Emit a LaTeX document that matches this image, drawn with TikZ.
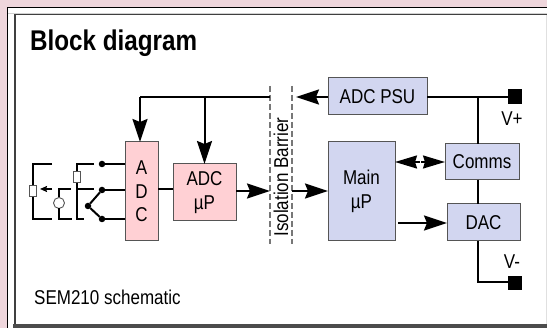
\documentclass[tikz,border=0pt]{standalone}
\usepackage{fontspec}
\setmainfont[FakeStretch=0.85]{Liberation Sans}
\usepackage{xcolor}
\usepackage{tikz}
\usetikzlibrary{arrows.meta,positioning,calc}
\definecolor{SheetPink}{HTML}{EFD6DC}
\definecolor{BoxPink}{HTML}{FFD0D4}
\definecolor{BoxBlue}{HTML}{D2D6F0}
\definecolor{BoxEdge}{HTML}{555555}
\definecolor{BarrierGrey}{HTML}{777777}
\tikzset{
  boxbase/.style={draw=BoxEdge,line width=1pt,outer sep=0pt,inner sep=0pt,align=center,
    font=\fontsize{20}{23.5}\selectfont},
  pinkbox/.style={boxbase,fill=BoxPink},
  bluebox/.style={boxbase,fill=BoxBlue},
  wire/.style={draw=black,line width=2pt},
  feed/.style={wire,-{Stealth[length=23pt,width=15pt,inset=3pt]}},
  feedboth/.style={wire,{Stealth[length=22pt,width=13pt,inset=2pt]}-{Stealth[length=22pt,width=13pt,inset=2pt]}},
  barrier/.style={draw=BarrierGrey,line width=1.2pt,dash pattern=on 6pt off 3pt},
  term/.style={fill=black,minimum size=14.5pt,inner sep=0pt,outer sep=0pt},
  pin/.style={circle,fill=black,minimum size=6.5pt,inner sep=0pt,outer sep=0pt},
  trim/.style={draw=BoxEdge,fill=white,line width=0.9pt,minimum width=7pt,minimum height=11pt,inner sep=0pt,outer sep=0pt},
  plain/.style={font=\fontsize{20}{20}\selectfont,inner sep=0pt}
}
\begin{document}
\begin{tikzpicture}[x=1pt,y=-1pt]
  \useasboundingbox (0,0) rectangle (547,328);
  % Sheet and frames.
  \fill[SheetPink] (0,0) rectangle (547,328);
  \fill[white] (7.5,7.5) rectangle (547,328);
  \draw[black,line width=1.2pt] (547,7.5) -- (7.5,7.5) -- (7.5,328);
  \draw[black!75,line width=1.2pt] (547,14.5) -- (15,14.5) -- (15,325);
  \fill[black!18] (8,13) rectangle (547,13.6);
  \fill[black!12] (545.5,15) rectangle (547,325);
  \fill[black!70] (13,324.5) rectangle (547,328);
  \node[font=\fontsize{28.5}{30}\selectfont\bfseries,anchor=base west,inner sep=0pt] (title) at (30,50.5) {Block diagram};
  \node[plain,anchor=base west] (caption) at (34,305) {SEM210 schematic};

  % Blocks.
  \node[pinkbox,minimum width=33pt,minimum height=99pt] (adc) at (141.5,191.5) {A\\D\\C};
  \node[pinkbox,minimum width=63pt,minimum height=57pt] (adcup) at (204.5,192.5) {ADC\\\textmu P};
  \node[bluebox,minimum width=67pt,minimum height=99pt] (mainup) at (361.5,191.5) {Main\\\textmu P};
  \node[bluebox,minimum width=99pt,minimum height=37pt] (psu) at (377.5,96.5) {ADC PSU};
  \node[bluebox,minimum width=74pt,minimum height=36pt] (comms) at (482,162) {Comms};
  \node[bluebox,minimum width=73pt,minimum height=37pt] (dac) at (483.5,222.5) {DAC};

  % Isolation barrier.
  \coordinate (barlt) at (270,86);
  \coordinate (barlb) at (270,244);
  \coordinate (barrt) at (292,86);
  \coordinate (barrb) at (292,244);
  \draw[barrier] (barlt) -- (barlb);
  \draw[barrier] (barrt) -- (barrb);
  \node[plain,rotate=90] (isolabel) at (281,177) {Isolation Barrier};

  % Supply side.
  \node[term] (vplus) at (515,96.5) {};
  \node[term] (vminus) at (515,283) {};
  \node[plain] (vpluslabel) at (512,119) {V+};
  \node[plain] (vminuslabel) at (512,262) {V-};
  \coordinate (railtop) at (478,97);
  \coordinate (railbot) at (478,282);
  \draw[wire] (psu.east |- railtop) -- (vplus.west |- railtop);
  \draw[wire] (railtop) -- (railtop |- comms.north);
  \draw[wire] (railtop |- comms.south) -- (railtop |- dac.north);
  \draw[wire] (railtop |- dac.south) -- (railbot) -- (vminus.west |- railbot);

  % Supply across the barrier.
  \coordinate (busleft) at (140,97);
  \draw[feed] (psu.west |- busleft) -- (296,97);
  \draw[wire] (barlt |- busleft) -- (busleft);
  \draw[feed] (busleft) -- (busleft |- adc.north);
  \draw[feed] (adcup.north |- busleft) -- (adcup.north);

  % Signal path.
  \coordinate (sigy) at (0,191);
  \draw[wire] (adc.east |- 0,189) -- (adcup.west |- 0,189);
  \draw[feed] (adcup.east |- sigy) -- (barlt |- sigy);
  \draw[feed] (barrt |- sigy) -- (mainup.west |- sigy);
  \draw[feedboth] (mainup.east |- comms.west) -- (comms.west);
  \fill[white] (419.6,158.5) rectangle (420.6,163.5);
  \coordinate (dacstart) at (398,223);
  \draw[feed] (dacstart) -- (dacstart -| dac.west);

  % Sensor inputs.
  \node[pin] (pina) at (102,164) {};
  \node[pin] (pinb) at (102,190) {};
  \node[pin] (pinc) at (102,219) {};
  \node[pin] (pinw) at (88,206) {};
  \draw[wire] (pina) -- (pina -| adc.west);
  \draw[wire] (pinb) -- (pinb -| adc.west);
  \draw[wire] (pinc) -- (pinc -| adc.west);
  \draw[wire] (pinw) -- (pinb);
  \draw[wire] (pinw) -- (pinc);

  \coordinate (loopa) at (52,164);
  \coordinate (loopb) at (52,219);
  \draw[wire] (loopa) -- (33,164) -- (33,219) -- (loopb);
  \node[trim] (rtda) at (33,190.5) {};
  \coordinate (wipera) at (52,189);
  \draw[wire,-{Stealth[length=7pt,width=6pt,inset=1pt]}] (wipera) -- (40,189);

  \coordinate (srca) at (71,189);
  \coordinate (srcb) at (72,219);
  \node[circle,draw=BoxEdge,fill=white,line width=0.9pt,minimum size=11pt,inner sep=0pt,outer sep=0pt] (source) at (59,203) {};
  \draw[wire] (srca) -- (59,189) -- (source.north);
  \draw[wire] (source.south) -- (59,219) -- (srcb);

  \coordinate (stubt) at (94,164);
  \coordinate (stubm) at (94,189);
  \coordinate (stubb) at (84,219);
  \draw[wire] (stubt) -- (77,164) -- (77,219) -- (stubb);
  \draw[wire] (77,189) -- (stubm);
  \node[trim] (rtdb) at (77,177) {};
\end{tikzpicture}
\end{document}
